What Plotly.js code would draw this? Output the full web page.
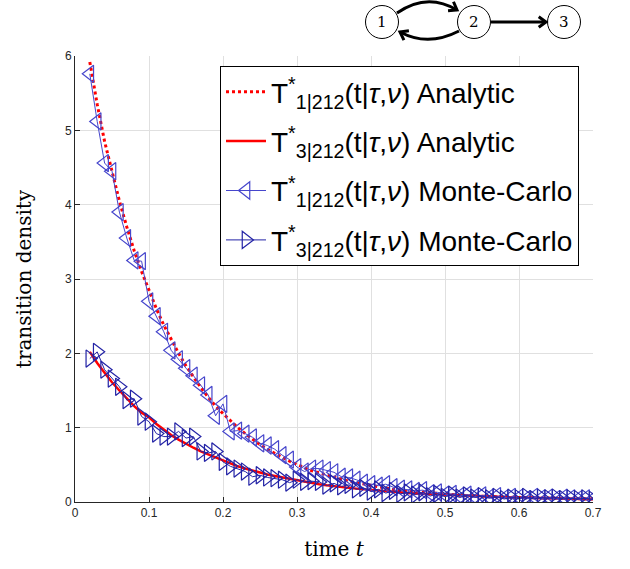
<!DOCTYPE html>
<html>
<head>
<meta charset="utf-8">
<script src="https://cdn.plot.ly/plotly-3.0.1.min.js"></script>
<style>html,body{margin:0;padding:0;background:#fff;}#chart{width:630px;height:569px;}</style>
</head>
<body>
<div id="chart"></div>
<script>
// time grid
const timeT = [0.02,0.03,0.04,0.05,0.06,0.07,0.08,0.09,0.10,0.11,0.12,0.13,0.14,0.15,0.16,0.17,0.18,0.19,0.20,0.21,0.22,0.23,0.24,0.25,0.26,0.27,0.28,0.29,0.30,0.31,0.32,0.33,0.34,0.35,0.36,0.37,0.38,0.39,0.40,0.41,0.42,0.43,0.44,0.45,0.46,0.47,0.48,0.49,0.50,0.51,0.52,0.53,0.54,0.55,0.56,0.57,0.58,0.59,0.60,0.61,0.62,0.63,0.64,0.65,0.66,0.67,0.68,0.69,0.70];

const t1Analytic = [5.92,5.35,4.85,4.45,4.05,3.70,3.38,3.10,2.85,2.60,2.38,2.18,2.00,1.83,1.68,1.54,1.41,1.29,1.19,1.09,1.00,0.92,0.84,0.77,0.71,0.65,0.60,0.55,0.50,0.46,0.42,0.39,0.36,0.33,0.30,0.28,0.26,0.24,0.22,0.20,0.19,0.17,0.16,0.15,0.14,0.13,0.12,0.11,0.10,0.095,0.09,0.085,0.08,0.077,0.073,0.07,0.067,0.064,0.061,0.058,0.056,0.053,0.051,0.049,0.047,0.045,0.043,0.041,0.04];

const t3Analytic = [2.02,1.87,1.74,1.61,1.50,1.39,1.29,1.20,1.14,1.05,0.97,0.90,0.84,0.78,0.73,0.68,0.64,0.59,0.55,0.52,0.48,0.45,0.42,0.40,0.37,0.35,0.33,0.31,0.29,0.27,0.255,0.24,0.225,0.21,0.20,0.19,0.18,0.17,0.16,0.15,0.14,0.135,0.128,0.12,0.115,0.11,0.104,0.099,0.094,0.09,0.086,0.082,0.078,0.075,0.072,0.069,0.066,0.063,0.06,0.058,0.056,0.054,0.052,0.05,0.048,0.046,0.044,0.042,0.04];

const t1MonteCarlo = [5.76,5.12,4.56,4.45,3.90,3.55,3.25,3.24,2.70,2.50,2.29,2.04,1.92,1.80,1.70,1.57,1.44,1.16,1.32,0.95,0.96,0.92,0.87,0.79,0.76,0.71,0.63,0.57,0.47,0.41,0.45,0.45,0.43,0.40,0.34,0.33,0.30,0.26,0.24,0.22,0.24,0.20,0.18,0.17,0.15,0.16,0.12,0.13,0.10,0.11,0.08,0.10,0.07,0.09,0.06,0.08,0.05,0.07,0.06,0.04,0.07,0.05,0.06,0.04,0.06,0.05,0.04,0.05,0.04];

const t3MonteCarlo = [1.93,2.02,1.78,1.66,1.55,1.37,1.39,1.15,1.08,0.92,0.88,0.88,0.95,0.86,0.88,0.68,0.66,0.68,0.54,0.48,0.45,0.41,0.34,0.36,0.33,0.32,0.30,0.26,0.30,0.27,0.28,0.27,0.22,0.25,0.21,0.23,0.17,0.19,0.14,0.17,0.12,0.15,0.11,0.13,0.10,0.13,0.08,0.11,0.07,0.10,0.06,0.09,0.06,0.08,0.05,0.07,0.04,0.06,0.05,0.07,0.04,0.06,0.05,0.06,0.04,0.05,0.04,0.05,0.03];

const legendNames = [
  'T<sup>*</sup><sub>1|212</sub>(t|<i>τ</i>,<i>ν</i>) Analytic',
  'T<sup>*</sup><sub>3|212</sub>(t|<i>τ</i>,<i>ν</i>) Analytic',
  'T<sup>*</sup><sub>1|212</sub>(t|<i>τ</i>,<i>ν</i>) Monte-Carlo',
  'T<sup>*</sup><sub>3|212</sub>(t|<i>τ</i>,<i>ν</i>) Monte-Carlo'
];
const xTicks = [0,0.1,0.2,0.3,0.4,0.5,0.6,0.7];
const yTicks = [0,1,2,3,4,5,6];

const traces = [
  {x: timeT, y: t1Analytic, type:'scatter', mode:'lines', name: legendNames[0], legendgroup:'a',
   line:{color:'#ff0000', width:3, dash:'dot'}},
  {x: timeT, y: t3Analytic, type:'scatter', mode:'lines', name: legendNames[1], legendgroup:'b',
   line:{color:'#ff0000', width:2.5}},
  {x: timeT, y: t1MonteCarlo, type:'scatter', mode:'lines+markers', name: legendNames[2], legendgroup:'c',
   line:{color:'#4646cc', width:1}, marker:{symbol:'triangle-left-open', size:15, color:'#4646cc', line:{width:1.2}}},
  {x: timeT, y: t3MonteCarlo, type:'scatter', mode:'lines+markers', name: legendNames[3], legendgroup:'d',
   line:{color:'#2323a6', width:1}, marker:{symbol:'triangle-right-open', size:15, color:'#2323a6', line:{width:1.2}}}
];

// diagram helpers (pixel -> paper)
const L = 75, R = 593, T = 56, B = 502;
const px = v => (v - L) / (R - L);
const py = v => (B - v) / (B - T);
const shapes = [];
function circ(cx, cy, r){
  shapes.push({type:'circle', xref:'paper', yref:'paper', x0:px(cx-r), x1:px(cx+r), y0:py(cy+r), y1:py(cy-r),
    line:{color:'#000', width:1}, fillcolor:'rgba(0,0,0,0)'});
}
function quad(x0,y0,cx,cy,x1,y1){
  shapes.push({type:'path', xref:'paper', yref:'paper',
    path:`M${px(x0)},${py(y0)} Q${px(cx)},${py(cy)} ${px(x1)},${py(y1)}`,
    line:{color:'#000', width:3}});
  head(x1,y1,x1-cx,y1-cy);
}
function straight(x0,y0,x1,y1){
  shapes.push({type:'path', xref:'paper', yref:'paper',
    path:`M${px(x0)},${py(y0)} L${px(x1)},${py(y1)}`, line:{color:'#000', width:3}});
  head(x1,y1,x1-x0,y1-y0);
}
function head(x,y,dx,dy){
  const n = Math.hypot(dx,dy); dx/=n; dy/=n;
  const len = 9, a = Math.PI/5;
  const p1 = [x - len*(dx*Math.cos(a) - dy*Math.sin(a)), y - len*(dy*Math.cos(a) + dx*Math.sin(a))];
  const p2 = [x - len*(dx*Math.cos(-a) - dy*Math.sin(-a)), y - len*(dy*Math.cos(-a) + dx*Math.sin(-a))];
  shapes.push({type:'path', xref:'paper', yref:'paper',
    path:`M${px(p1[0])},${py(p1[1])} L${px(x)},${py(y)} L${px(p2[0])},${py(p2[1])}`,
    line:{color:'#000', width:3}});
}
circ(382,22,16.5); circ(474,22,16.5); circ(564,22,16.5);
quad(397,13,427,-8,457,10);
quad(459,31,428,47,400,32);
straight(491,22,546,22);

const serif = 'DejaVu Serif, Liberation Serif, serif';
const annotations = [['1',382],['2',474],['3',564]].map(([t,cx]) => ({
  text:t, xref:'paper', yref:'paper', x:px(cx), y:py(22), xanchor:'center', yanchor:'middle',
  showarrow:false, font:{family:serif, size:15, color:'#000'}
}));

const layout = {
  width:630, height:569,
  margin:{l:L, r:630-R, t:T, b:569-B, pad:0},
  paper_bgcolor:'#fff', plot_bgcolor:'#fff',
  showlegend:true,
  legend:{x:px(220), y:py(66), xanchor:'left', yanchor:'top', bgcolor:'#fff', bordercolor:'#000', borderwidth:1,
    font:{family:'Liberation Sans, Arial, sans-serif', size:28, color:'#000'},
    traceorder:'grouped', tracegroupgap:10, itemwidth:40},
  xaxis:{range:[0,0.7], tickvals:xTicks, ticktext:xTicks.map(String), ticks:'inside', ticklen:5, tickcolor:'#262626',
    showline:true, linecolor:'#262626', linewidth:1, mirror:false, zeroline:false,
    showgrid:true, gridcolor:'#e0e0e0', gridwidth:1,
    tickfont:{family:'Liberation Sans, Arial, sans-serif', size:12, color:'#262626'},
    title:{text:'time <i>t</i>', font:{family:serif, size:20, color:'#000'}, standoff:22}},
  yaxis:{range:[0,6], tickvals:yTicks, ticktext:yTicks.map(String), ticks:'inside', ticklen:5, tickcolor:'#262626',
    showline:true, linecolor:'#262626', linewidth:1, mirror:false, zeroline:false,
    showgrid:true, gridcolor:'#e0e0e0', gridwidth:1,
    tickfont:{family:'Liberation Sans, Arial, sans-serif', size:12, color:'#262626'},
    title:{text:'transition density', font:{family:serif, size:20, color:'#000'}, standoff:27}},
  shapes: shapes,
  annotations: annotations
};

Plotly.newPlot('chart', traces, layout, {displayModeBar:false, staticPlot:true});
</script>
</body>
</html>
